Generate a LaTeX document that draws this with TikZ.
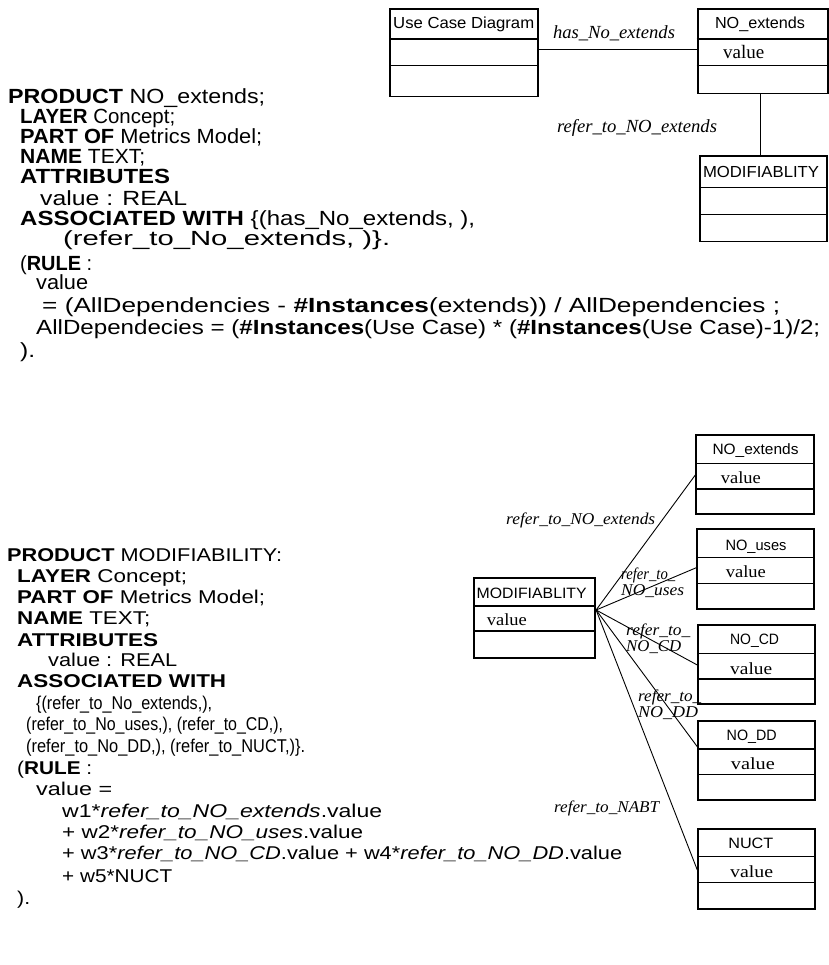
\documentclass[tikz,border=0pt]{standalone}
\usepackage{fontspec}
\usepackage{graphicx}
\setmainfont{Liberation Serif}
\setsansfont{Liberation Sans}

% stretch a piece of text horizontally to a given width (in pt)
\newsavebox\fitbox
\newlength\fitlen
\newcommand\fitwidth[2]{\sbox\fitbox{#2}\setlength\fitlen{\wd\fitbox}%
  \pgfmathsetmacro\fitratio{#1/\fitlen}\scalebox{\fitratio}[1]{\usebox\fitbox}}

% one line of the specification text: name, x, baseline y, width, text
\newcommand\pline[5]{\node[codeline] (#1) at (#2,#3) {\fitwidth{#4}{#5}};}

% class box: name, x1, y1, x2, y2, first separator y, second separator y
\newcommand\classbox[7]{%
  \node[boxframe, anchor=north west, minimum width=#4pt-#2pt, minimum height=#5pt-#3pt] (#1) at (#2,#3) {};
  \draw[sepline] (#2,#6) -- (#4,#6);
  \draw[sepline] (#2,#7) -- (#4,#7);
}

\tikzset{
  codeline/.style={anchor=base west, inner sep=0pt, font=\sffamily\fontsize{20.5}{22}\selectfont},
  boxframe/.style={draw, line width=1.8pt, inner sep=0pt},
  sepline/.style={line width=1.1pt},
  link/.style={line width=0.9pt},
  boxtitle/.style={inner sep=0pt, font=\sffamily\fontsize{16}{18}\selectfont},
  attr/.style={anchor=west, inner sep=0pt, font=\fontsize{19}{20}\selectfont},
  rolelabel/.style={inner sep=0pt, align=left, font=\itshape\fontsize{18.5}{20}\selectfont},
}

\begin{document}
\begin{tikzpicture}[x=1pt,y=-1pt]
\useasboundingbox (0,0) rectangle (828,965);

% ---------- NO_extends specification ----------
\pline{a1}{8}{104}{257}{\textbf{PRODUCT} NO\_extends;}
\pline{a2}{20}{124}{155}{\textbf{LAYER} Concept;}
\pline{a3}{20}{144}{242}{\textbf{PART OF} Metrics Model;}
\pline{a4}{20}{164}{125}{\textbf{NAME} TEXT;}
\pline{a5}{20}{184}{150}{\textbf{ATTRIBUTES}}
\pline{a6}{40}{206}{147}{value : REAL}
\pline{a7}{20}{226}{455}{\textbf{ASSOCIATED WITH} \{(has\_No\_extends, ),}
\pline{a8}{63}{246}{327}{(refer\_to\_No\_extends, )\}.}
\pline{a9}{20}{270}{72}{(\textbf{RULE} :}
\pline{a10}{36}{290}{52}{value}
\pline{a11}{42}{312}{738}{= (AllDependencies - \textbf{\#Instances}(extends)) / AllDependencies ;}
\pline{a12}{36}{334}{784}{AllDependecies = (\textbf{\#Instances}(Use Case) * (\textbf{\#Instances}(Use Case)-1)/2;}
\pline{a13}{20}{357}{15}{).}

% ---------- NO_extends diagram ----------
\classbox{uc}{389.3}{8.3}{536.7}{95.7}{39}{65.7}
\classbox{ext}{696.7}{8.3}{826.7}{92.7}{39}{65.7}
\classbox{mod}{699.3}{155.3}{826}{240.7}{187.7}{214.3}
\node[boxtitle] (uct) at (463.7,24) {\fitwidth{141}{Use Case Diagram}};
\node[boxtitle] (extt) at (760,24) {\fitwidth{90}{NO\_extends}};
\node[attr] (extv) at (723,52) {value};
\node[boxtitle] (modt) at (761,172) {\fitwidth{116}{MODIFIABLITY}};
\draw[link] (uc.east |- 0,49.3) -- (ext.west |- 0,49.3);
\draw[link] (ext.south -| 760,0) -- (mod.north -| 760,0);
\node[rolelabel] (l1) at (614,33) {\fitwidth{122}{has\_No\_extends}};
\node[rolelabel] (l2) at (637,128) {\fitwidth{160}{refer\_to\_NO\_extends}};

% ---------- MODIFIABILITY specification ----------
\begin{scope}[codeline/.append style={font=\sffamily\fontsize{18.5}{19}\selectfont}]
\pline{b1}{7}{561.3}{275}{\textbf{PRODUCT} MODIFIABILITY:}
\pline{b2}{17}{582.3}{170}{\textbf{LAYER} Concept;}
\pline{b3}{17}{603.3}{248}{\textbf{PART OF} Metrics Model;}
\pline{b4}{17}{624.3}{133}{\textbf{NAME} TEXT;}
\pline{b5}{17}{646.3}{141}{\textbf{ATTRIBUTES}}
\pline{b6}{48}{666.3}{129}{value : REAL}
\pline{b7}{17}{687.3}{209}{\textbf{ASSOCIATED WITH}}
\pline{b8}{36}{709.3}{176}{\{(refer\_to\_No\_extends,),}
\pline{b9}{26}{730.3}{257}{(refer\_to\_No\_uses,), (refer\_to\_CD,),}
\pline{b10}{26}{752.3}{279}{(refer\_to\_No\_DD,), (refer\_to\_NUCT,)\}.}
\pline{b11}{17}{774.3}{75}{(\textbf{RULE} :}
\pline{b12}{36}{795.3}{76}{value =}
\pline{b13}{62}{817.3}{320}{w1*\textit{refer\_to\_NO\_extends}.value}
\pline{b14}{62}{838.3}{301}{+ w2*\textit{refer\_to\_NO\_uses}.value}
\pline{b15}{62}{859.3}{560}{+ w3*\textit{refer\_to\_NO\_CD}.value + w4*\textit{refer\_to\_NO\_DD}.value}
\pline{b16}{62}{882.3}{110}{+ w5*NUCT}
\pline{b17}{17}{904.3}{13}{).}
\end{scope}

% ---------- MODIFIABILITY diagram ----------
\begin{scope}[boxtitle/.append style={font=\sffamily\fontsize{15}{17}\selectfont},
              attr/.append style={font=\fontsize{17}{18}\selectfont},
              rolelabel/.append style={font=\itshape\fontsize{16.5}{15.7}\selectfont}]
\classbox{e2}{695.3}{434.3}{812.7}{513.3}{463.3}{489}
\classbox{u2}{696.3}{528.3}{813.3}{608.3}{557.3}{583.3}
\classbox{m2}{473.3}{576.7}{594.3}{656.7}{606}{631}
\classbox{c2}{697.3}{624}{814.3}{702.7}{653.3}{679}
\classbox{d2}{697.3}{720}{814.3}{799}{749}{774.3}
\classbox{n2}{697.3}{827.7}{814.3}{907.7}{856.7}{882.3}

\node[boxtitle] (e2t) at (755.5,450.7) {\fitwidth{86}{NO\_extends}};
\node[attr] (e2v) at (720.7,477.3) {\fitwidth{40}{value}};
\node[boxtitle] (u2t) at (756,546.7) {\fitwidth{61}{NO\_uses}};
\node[attr] (u2v) at (725.7,571.7) {\fitwidth{40}{value}};
\node[boxtitle] (m2t) at (531.7,593.3) {\fitwidth{110}{MODIFIABLITY}};
\node[attr] (m2v) at (486.7,619.3) {\fitwidth{40}{value}};
\node[boxtitle] (c2t) at (754.5,640.7) {\fitwidth{49}{NO\_CD}};
\node[attr] (c2v) at (730,668.3) {\fitwidth{42}{value}};
\node[boxtitle] (d2t) at (751.7,736.7) {\fitwidth{50}{NO\_DD}};
\node[attr] (d2v) at (730.7,763.3) {\fitwidth{44}{value}};
\node[boxtitle] (n2t) at (750.8,843.3) {\fitwidth{45}{NUCT}};
\node[attr] (n2v) at (730,871.7) {\fitwidth{43}{value}};

\coordinate (hub) at (m2.east |- 0,610);
\draw[link] (hub) -- (e2.west |- 0,475);
\draw[link] (hub) -- (u2.west |- 0,567.7);
\draw[link] (hub) -- (c2.west |- 0,665);
\draw[link] (hub) -- (d2.west |- 0,746.7);
\draw[link] (hub) -- (n2.west |- 0,870);

\node[rolelabel, anchor=west] (r1) at (506,520) {\fitwidth{149}{refer\_to\_NO\_extends}};
\node[rolelabel, anchor=north west] (r2) at (621,568) {\fitwidth{54}{refer\_to\_}\\\fitwidth{63}{NO\_uses}};
\node[rolelabel, anchor=north west] (r3) at (626,623.5) {\fitwidth{64}{refer\_to\_}\\\fitwidth{55}{NO\_CD}};
\node[rolelabel, anchor=north west] (r4) at (638,690) {\fitwidth{63}{refer\_to\_}\\\fitwidth{60}{NO\_DD}};
\node[rolelabel, anchor=west] (r5) at (554,808) {\fitwidth{105}{refer\_to\_NABT}};
\end{scope}
\end{tikzpicture}
\end{document}
